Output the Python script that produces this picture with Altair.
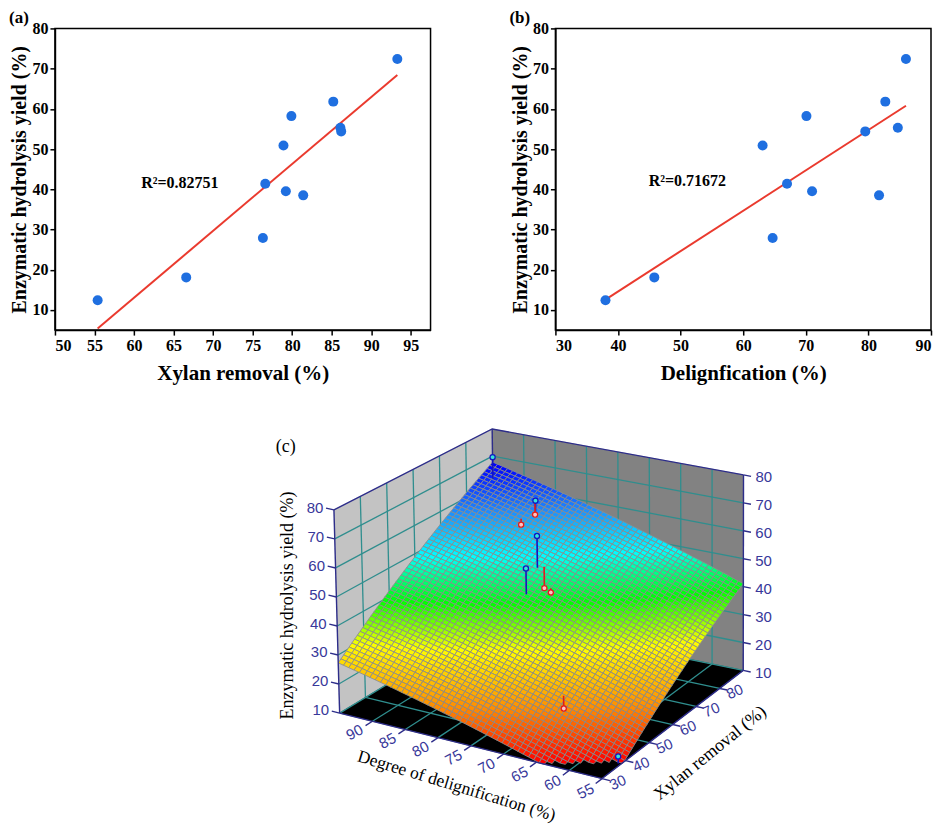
import numpy as np
import pandas as pd
import altair as alt

alt.data_transformers.disable_max_rows()

SERIF = "Liberation Serif"
SANS = "Liberation Sans"

# ---------------- values (a) and (b) ----------------
xylan_removal = [55.4, 66.6, 76.3, 76.6, 78.9, 79.2, 79.9, 81.4, 85.2, 86.1, 86.2, 93.3]
delignification = [38.0, 45.8, 64.7, 67.0, 63.1, 71.0, 70.1, 81.7, 82.7, 84.7, 79.5, 86.0]
hydrolysis_yield = [12.4, 18.1, 27.9, 41.4, 50.9, 39.5, 58.2, 38.5, 61.8, 55.3, 54.4, 72.4]

xylan_ticks = [50, 55, 60, 65, 70, 75, 80, 85, 90, 95]
delig_ticks = [30, 40, 50, 60, 70, 80, 90]
yield_ticks = [10, 20, 30, 40, 50, 60, 70, 80]
r2_labels = ["R\u00b2=0.82751", "R\u00b2=0.71672"]

# ---------------- panel (c): surface heights ----------------
surf_deg = [95, 95, 95, 95, 95, 95, 87.7, 76, 68, 55, 55, 55, 55, 55, 55,
            66.6, 78.9, 79.2, 76.6, 86.1, 86.2]
surf_xyl = [30, 41.4, 54.4, 67.4, 80.4, 89.4, 30, 30, 30, 43.4, 49.1, 54.6, 61.8, 71.8, 90,
            45.8, 63.1, 71.0, 67.0, 84.7, 79.5]
surf_yield = [28, 36.7, 44.0, 53.9, 61.7, 67.4, 23.0, 16.4, 11.8, 13.0, 17.5, 21.0, 24.7, 27.9, 42.0,
              22.9, 42.0, 47.8, 43.0, 59.7, 56.8]

deg_ticks_3d = [90, 85, 80, 75, 70, 65, 60, 55]
xyl_ticks_3d = [30, 40, 50, 60, 70, 80]
z_ticks_3d = [10, 20, 30, 40, 50, 60, 70, 80]

# ---------------- layout constants ----------------
PLOT_H = 302
X_A = 54          # page x of panel (a) plot area (= origin of panel (c))
Y_TOP = 26.6      # page y of the top plots
Y0 = Y_TOP + PLOT_H + 53.7 + 10   # page y of panel (c) origin
DY = -6
C_BOTTOM = 822
OCCLUDE_DEPTH = 10   # points deeper than this below the surface are hidden by it

# ---------------- panels (a), (b) ----------------
def scatter_panel(xvals, xdom, xticks, xtitle, r2, r2x, r2y, tag, width):
    df = pd.DataFrame({"x": xvals, "y": hydrolysis_yield})
    xenc = alt.X("x:Q", scale=alt.Scale(domain=xdom, nice=False, zero=False),
                 axis=alt.Axis(values=xticks, title=xtitle, titlePadding=9, titleFontSize=21))
    yenc = alt.Y("y:Q", scale=alt.Scale(domain=[5, 80], nice=False, zero=False),
                 axis=alt.Axis(values=yield_ticks, title="Enzymatic hydrolysis yield (%)",
                               titlePadding=2, titleFontSize=20))
    fit = alt.Chart(df).transform_regression("x", "y").mark_line(
        color="#ea3a2e", strokeWidth=2).encode(x=xenc, y=yenc)
    pts = alt.Chart(df).mark_circle(size=100, color="#1f6fe0", opacity=1).encode(
        x="x:Q", y="y:Q")
    note = alt.Chart(pd.DataFrame({"x": [r2x], "y": [r2y], "t": [r2]})).mark_text(
        align="left", baseline="middle", font=SERIF, fontWeight="bold", fontSize=16,
        color="black").encode(x="x:Q", y="y:Q", text="t:N")
    lab = alt.Chart(pd.DataFrame({"t": [tag]})).mark_text(
        align="left", baseline="alphabetic", font=SERIF, fontWeight="bold", fontSize=17,
        color="black").encode(x=alt.value(-46), y=alt.value(-5), text="t:N")
    return alt.layer(fit, pts, note, lab).properties(
        width=width, height=PLOT_H,
        view=alt.ViewBackground(stroke="black", strokeWidth=1.5))

pa = scatter_panel(xylan_removal, [50, 97.5], xylan_ticks, "Xylan removal (%)",
                   r2_labels[0], 60.9, 41.5, "(a)", 376)
pb = scatter_panel(delignification, [30, 90], delig_ticks, "Delignfication (%)",
                   r2_labels[1], 44.9, 42.0, "(b)", 376)
top = alt.hconcat(pa, pb, spacing=77)

# ---------------- panel (c): 3D projection ----------------
BOT = np.array([[339.0, 717.7], [601.7, 783.3], [743.0, 675.0], [494.0, 624.0]])  # L F R B
TOP = np.array([[333.3, 514.3], [598.0, 572.0], [743.3, 479.3], [491.7, 433.3]])

def proj(u, v, z):
    u, v, z = np.broadcast_arrays(np.asarray(u, float), np.asarray(v, float), np.asarray(z, float))
    s = (95 - u) / 40.0
    t = (v - 30) / 60.0
    w = (z - 10) / 70.0
    wts = [(1 - s) * (1 - t), s * (1 - t), s * t, (1 - s) * t]
    bx = sum(wts[k] * BOT[k, 0] for k in range(4))
    by = sum(wts[k] * BOT[k, 1] for k in range(4))
    tx = sum(wts[k] * TOP[k, 0] for k in range(4))
    ty = sum(wts[k] * TOP[k, 1] for k in range(4))
    return bx + w * (tx - bx), by + w * (ty - by)

P = 95 - np.array(surf_deg, float)
Q = np.array(surf_xyl, float) - 30
A = np.column_stack([np.ones_like(P), P, Q, P * P, Q * Q, P * Q])
coef, *_ = np.linalg.lstsq(A, np.array(surf_yield, float), rcond=None)

def surface(u, v):
    p = 95 - np.asarray(u, float)
    q = np.asarray(v, float) - 30
    return coef[0] + coef[1] * p + coef[2] * q + coef[3] * p * p + coef[4] * q * q + coef[5] * p * q

def feat_line(pts3):
    xs, ys = proj(*np.array(pts3, float).T)
    return {"type": "Feature", "properties": {},
            "geometry": {"type": "LineString",
                         "coordinates": [[round(float(a), 2), round(float(b), 2)] for a, b in zip(xs, ys)]}}

def feat_poly(pts3):
    xs, ys = proj(*np.array(pts3, float).T)
    ring = [[round(float(a), 2), round(float(b), 2)] for a, b in zip(xs, ys)]
    ring.append(ring[0])
    return {"type": "Feature", "properties": {},
            "geometry": {"type": "Polygon", "coordinates": [ring]}}

TEAL = "#2f8e8e"
NAVY = "#2d2d8a"
LBL = "#38389a"

wall_left = [feat_poly([(95, 30, 10), (95, 90, 10), (95, 90, 80), (95, 30, 80)])]
wall_back = [feat_poly([(95, 90, 10), (55, 90, 10), (55, 90, 80), (95, 90, 80)])]
floor = [feat_poly([(95, 30, 10), (55, 30, 10), (55, 90, 10), (95, 90, 10)])]

grid = []
for z in z_ticks_3d[1:-1]:
    grid.append(feat_line([(95, 30, z), (95, 90, z)]))
    grid.append(feat_line([(95, 90, z), (55, 90, z)]))
for v in xyl_ticks_3d[1:]:
    grid.append(feat_line([(95, v, 10), (95, v, 80)]))
    grid.append(feat_line([(95, v, 10), (55, v, 10)]))
for u in deg_ticks_3d[:-1]:
    grid.append(feat_line([(u, 90, 10), (u, 90, 80)]))
    grid.append(feat_line([(u, 30, 10), (u, 90, 10)]))
grid.append(feat_line([(95, 30, 10), (95, 90, 10), (55, 90, 10)]))

back_edges = [
    feat_line([(95, 90, 10), (95, 90, 80)]),
    feat_line([(95, 30, 80), (95, 90, 80), (55, 90, 80)]),
]
front_edges = [
    feat_line([(95, 30, 10), (95, 30, 80)]),
    feat_line([(55, 90, 10), (55, 90, 80)]),
    feat_line([(95, 30, 10), (55, 30, 10), (55, 90, 10)]),
]
for z in z_ticks_3d:
    front_edges.append(feat_line([(95, 30, z), (96.2, 30, z)]))
    front_edges.append(feat_line([(55, 90, z), (53.8, 90, z)]))
for u in deg_ticks_3d:
    front_edges.append(feat_line([(u, 30, 10), (u, 27.3, 10)]))
for v in xyl_ticks_3d:
    front_edges.append(feat_line([(55, v, 10), (53.8, v, 10)]))

# surface mesh
NU, NV = 50, 56
ue = np.linspace(55, 95, NU + 1)
ve = np.linspace(30, 90, NV + 1)
UU, VV = np.meshgrid(ue, ve, indexing="ij")
ZZ = surface(UU, VV)
X, Y = proj(UU, VV, np.maximum(ZZ, 10))
cells = []
for i in range(NU):
    for j in range(NV):
        zc = float(ZZ[i:i + 2, j:j + 2].mean())
        if zc < 10:
            continue
        idx = [(i, j), (i + 1, j), (i + 1, j + 1), (i, j + 1), (i, j)]
        ring = [[round(float(X[a, b]), 2), round(float(Y[a, b]), 2)] for a, b in idx]
        sc = (95 - (ue[i] + ue[i + 1]) / 2) / 40
        tc = ((ve[j] + ve[j + 1]) / 2 - 30) / 60
        cells.append((tc - sc, {"type": "Feature", "properties": {"z": round(zc, 2)},
                                "geometry": {"type": "Polygon", "coordinates": [ring]}}))
cells.sort(key=lambda d: -d[0])
cell_feats = [c[1] for c in cells]

# data points with drop lines to the surface
pu = np.array(xylan_removal, float)
pv = np.array(delignification, float)
pz = np.array(hydrolysis_yield, float)
ps = np.maximum(surface(pu, pv), 10)
stems_up, stems_dn, mk_up, mk_dn = [], [], [], []
for a, b, c, d in zip(pu, pv, pz, ps):
    if d - c > OCCLUDE_DEPTH:
        continue  # lies deep under the opaque surface
    x, y = proj(a, b, c)
    rec = {"px": float(x), "py": float(y)}
    if c >= d:
        stems_dn.append(feat_line([(a, b, c), (a, b, d)]))
        mk_up.append(rec)
    else:
        stems_up.append(feat_line([(a, b, c), (a, b, d)]))
        mk_dn.append(rec)

def text_df(u, v, z, labels):
    x, y = proj(u, v, z)
    return pd.DataFrame({"px": np.atleast_1d(x), "py": np.atleast_1d(y), "lab": labels})

lab_left = text_df(96.6, 30, z_ticks_3d, [str(z) for z in z_ticks_3d])
lab_right = text_df(53.1, 90, z_ticks_3d, [str(z) for z in z_ticks_3d])
lab_deg = text_df(deg_ticks_3d, 23, 10, [str(u) for u in deg_ticks_3d])
lab_xyl = text_df(52.6, xyl_ticks_3d, 10, [str(v) for v in xyl_ticks_3d])

def geo(features, **kw):
    return alt.Chart(alt.Data(values=features)).mark_geoshape(**kw)

def texts(df, **kw):
    return alt.Chart(df).mark_text(**kw).encode(
        longitude="px:Q", latitude="py:Q", text="lab:N")

layers = [
    geo(wall_left, fill="#c3c3c3", stroke="#c3c3c3", strokeWidth=0.5),
    geo(wall_back, fill="#828282", stroke="#828282", strokeWidth=0.5),
    geo(floor, fill="#000000", stroke="#000000", strokeWidth=0.5),
    geo(grid, filled=False, stroke=TEAL, strokeWidth=1.3),
    geo(back_edges, filled=False, stroke=NAVY, strokeWidth=1.4),
    geo(cell_feats, stroke="#8d8d8d", strokeWidth=0.85).encode(
        color=alt.Color("properties.z:Q", legend=None,
                        scale=alt.Scale(domain=[10, 20, 31, 40, 49, 58, 67],
                                        range=["#ff0000", "#ff8c00", "#ffff00", "#00ff00",
                                               "#00ffff", "#1e8cff", "#0000ff"],
                                        interpolate="rgb", clamp=True))),
    geo(front_edges, filled=False, stroke=NAVY, strokeWidth=1.4),
]
if stems_dn:
    layers.append(geo(stems_dn, filled=False, stroke="#1414c0", strokeWidth=1.6))
if stems_up:
    layers.append(geo(stems_up, filled=False, stroke="#e01c1c", strokeWidth=1.6))
if mk_up:
    layers.append(alt.Chart(pd.DataFrame(mk_up)).mark_point(
        filled=True, size=26, fill="#36e2d8", stroke="#1414c0", strokeWidth=1.3,
        shape="circle", opacity=1).encode(longitude="px:Q", latitude="py:Q"))
if mk_dn:
    layers.append(alt.Chart(pd.DataFrame(mk_dn)).mark_point(
        filled=True, size=26, fill="#ffc4c4", stroke="#e01c1c", strokeWidth=1.3,
        shape="circle", opacity=1).encode(longitude="px:Q", latitude="py:Q"))

layers += [
    texts(lab_left, align="right", baseline="middle", font=SANS, fontSize=15, color=LBL),
    texts(lab_right, align="left", baseline="middle", font=SANS, fontSize=15, color=LBL),
    texts(lab_deg, align="center", baseline="middle", font=SANS, fontSize=15, color=LBL, angle=332),
    texts(lab_xyl, align="center", baseline="middle", font=SANS, fontSize=15, color=LBL, angle=336),
    texts(pd.DataFrame({"px": [287.0], "py": [610.0], "lab": ["Enzymatic hydrolysis yield (%)"]}),
          align="center", baseline="middle", font=SERIF, fontSize=18, color="black", angle=270),
    texts(pd.DataFrame({"px": [456.0], "py": [791.0], "lab": ["Degree of delignification (%)"]}),
          align="center", baseline="middle", font=SERIF, fontSize=17.5, color="black", angle=17,
          clip=True),
    texts(pd.DataFrame({"px": [710.0], "py": [758.0], "lab": ["Xylan removal (%)"]}),
          align="center", baseline="middle", font=SERIF, fontSize=18, color="black", angle=321,
          clip=True),
    texts(pd.DataFrame({"px": [285.0], "py": [451.0], "lab": ["(c)"]}),
          align="center", baseline="middle", font=SERIF, fontSize=18, color="black"),
]

c_height = int(round(C_BOTTOM - Y0))
panel_c = alt.layer(*layers).properties(
    width=860, height=c_height,
    projection=alt.Projection(type="identity", scale=1, translate=[-X_A, DY - Y0]),
)

chart = alt.vconcat(top, panel_c, spacing=10).properties(padding=0).configure_view(
    strokeWidth=0
).configure_axis(
    labelFont=SERIF, labelFontWeight="bold", labelFontSize=16, labelColor="black",
    titleFont=SERIF, titleFontWeight="bold", titleFontSize=20, titleColor="black",
    domainColor="black", domainWidth=1.5, tickColor="black", tickWidth=1.5, tickSize=5,
    grid=False, labelPadding=2, titlePadding=2,
)

chart.save("out.html", embed_options={"renderer": "svg", "actions": False})
